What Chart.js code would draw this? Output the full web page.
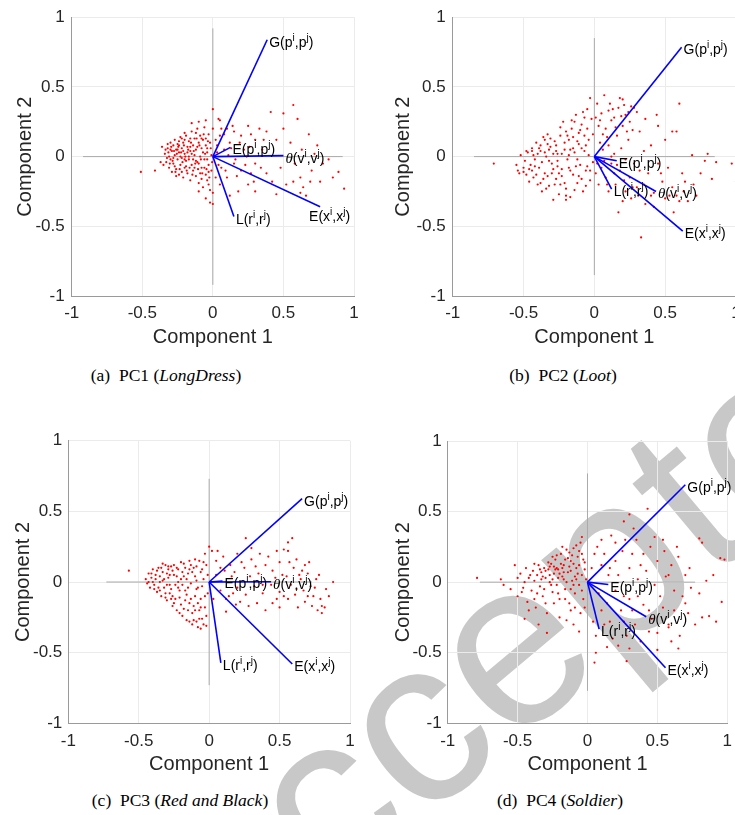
<!DOCTYPE html>
<html>
<head>
<meta charset="utf-8">
<script src="https://cdn.jsdelivr.net/npm/chart.js@4.4.1/dist/chart.umd.min.js"></script>
<style>
  body { margin: 0; background: #fff; }
  #page { position: relative; width: 735px; height: 815px; overflow: hidden; }
  #page canvas { position: absolute; z-index: 1; }
  #mark { position: absolute; left: 0; top: 0; z-index: 0; }
  .cap { position: absolute; z-index: 2; font-family: "Liberation Serif", serif; font-size: 17.5px;
         color: #000; white-space: nowrap; transform: translate(-50%, -50%); }
</style>
</head>
<body>
<div id="page">
  <svg id="mark" width="735" height="815">
    <text x="209.1" y="1000.9" transform="rotate(-40 209.1 1000.9)" font-family="Liberation Sans"
          font-size="235" fill="#c8c8c8">Accepted</text>
  </svg>
  <canvas id="pc1" width="370" height="360"></canvas>
  <canvas id="pc2" width="380" height="360"></canvas>
  <canvas id="pc3" width="370" height="360"></canvas>
  <canvas id="pc4" width="370" height="360"></canvas>
  <div class="cap" style="left:166px;top:375px">(a)&ensp;PC1 (<i>LongDress</i>)</div>
  <div class="cap" style="left:563px;top:375px">(b)&ensp;PC2 (<i>Loot</i>)</div>
  <div class="cap" style="left:180px;top:800px">(c)&ensp;PC3 (<i>Red and Black</i>)</div>
  <div class="cap" style="left:560px;top:800px">(d)&ensp;PC4 (<i>Soldier</i>)</div>
</div>
<script>
'use strict';

const tickValues = [-1, -0.5, 0, 0.5, 1];
const vectorNames = ['G(p^i,p^j)', 'E(p^i,p^j)', 'θ(v^i,v^j)', 'E(x^i,x^j)', 'L(r^i,r^j)'];

// coefficient tips, same order as vectorNames
const pc1Vectors = [[0.385, 0.838], [0.125, 0.066], [0.50, 0.007], [0.76, -0.36], [0.149, -0.43]];
const pc2Vectors = [[0.616, 0.784], [0.158, -0.03], [0.435, -0.25], [0.624, -0.534], [0.122, -0.233]];
const pc3Vectors = [[0.66, 0.59], [0.095, 0.007], [0.44, 0.002], [0.59, -0.58], [0.083, -0.572]];
const pc4Vectors = [[0.70, 0.69], [0.149, -0.017], [0.42, -0.245], [0.558, -0.606], [0.083, -0.333]];

// half length of the grey biplot axes
const axisExtent = [0.92, 0.85, 0.73, 0.77];

const pc1Scores = [
  [-0.34,0.02],[-0.33,-0.04],[-0.32,0.06],[-0.31,-0.08],[-0.31,0.0],[-0.3,0.1],[-0.3,-0.02],[-0.29,0.04],
  [-0.29,-0.11],[-0.28,0.08],[-0.28,-0.05],[-0.27,0.01],[-0.27,0.12],[-0.26,-0.09],[-0.26,0.05],[-0.25,-0.02],
  [-0.25,0.09],[-0.24,-0.13],[-0.24,0.03],[-0.23,0.14],[-0.23,-0.06],[-0.22,0.06],[-0.22,-0.01],[-0.21,-0.15],
  [-0.21,0.1],[-0.2,0.02],[-0.2,-0.08],[-0.19,0.15],[-0.19,-0.03],[-0.18,0.07],[-0.18,-0.12],[-0.17,0.0],
  [-0.17,0.11],[-0.16,-0.17],[-0.16,0.04],[-0.15,-0.06],[-0.15,0.18],[-0.14,0.08],[-0.14,-0.1],[-0.13,0.01],
  [-0.13,0.13],[-0.12,-0.14],[-0.12,0.05],[-0.11,-0.04],[-0.11,0.2],[-0.1,0.1],[-0.1,-0.19],[-0.09,0.0],
  [-0.09,0.15],[-0.08,-0.08],[-0.08,0.06],[-0.07,-0.22],[-0.07,0.12],[-0.06,-0.02],[-0.06,0.21],[-0.05,0.08],
  [-0.05,-0.13],[-0.04,0.03],[-0.04,-0.17],[-0.03,0.16],[-0.03,-0.06],[-0.02,0.1],[-0.02,-0.24],[-0.01,0.01],
  [-0.01,-0.1],[0.0,0.2],[-0.35,-0.06],[-0.32,0.09],[-0.26,-0.14],[-0.24,0.11],[-0.21,0.04],[-0.19,-0.07],
  [-0.17,-0.02],[-0.15,0.02],[-0.13,-0.08],[-0.11,0.07],[-0.09,-0.12],[-0.07,0.03],[-0.05,0.13],[-0.03,-0.11],
  [-0.2,0.12],[-0.22,-0.11],[-0.28,-0.01],[-0.16,0.13],[-0.12,0.17],[-0.08,-0.16],[-0.18,0.03],[-0.25,0.05],
  [-0.3,0.05],[-0.14,-0.02],[-0.1,-0.05],[-0.06,-0.08],[-0.04,0.06],[-0.23,0.0],[-0.27,-0.07],
  [-0.335,0.05],[-0.325,-0.01],[-0.315,0.03],[-0.305,-0.05],[-0.295,0.07],[-0.285,-0.03],[-0.275,0.04],[-0.265,-0.11],
  [-0.255,0.02],[-0.245,0.07],[-0.235,-0.09],[-0.225,0.03],[-0.215,-0.04],[-0.205,0.08],[-0.195,0.0],[-0.185,-0.1],
  [-0.175,0.05],[-0.165,-0.08],[-0.155,0.1],[-0.145,-0.13],[-0.135,0.04],[-0.125,-0.05],[-0.115,0.13],[-0.105,-0.09],
  [-0.095,0.08],[-0.085,-0.02],[-0.075,-0.12],[-0.065,0.16],[-0.055,0.02],[-0.045,-0.09],[-0.035,0.11],[-0.025,-0.15],
  [-0.015,0.06],[-0.005,-0.04],[-0.24,0.08],[-0.2,-0.02],[-0.16,0.07],[-0.12,-0.03],[-0.08,0.13],[-0.04,-0.02],
  [-0.51,-0.11],[-0.41,-0.1],[-0.36,0.07],[-0.37,-0.04],[-0.15,0.24],[-0.1,0.25],[-0.05,0.26],[0.05,0.26],
  [0.04,0.27],[0.0,0.34],[-0.2,0.17],[-0.22,0.13],[-0.05,-0.3],[-0.02,-0.33],[0.0,-0.34],[-0.1,-0.25],
  [0.0,-0.26],[-0.03,-0.2],
  [0.05,0.15],[0.1,0.2],[0.15,0.18],[0.2,0.15],[0.25,0.22],[0.3,0.12],[0.08,0.05],[0.15,-0.05],
  [0.2,-0.1],[0.1,-0.15],[0.25,-0.2],[0.3,-0.05],[0.35,0.05],[0.18,-0.25],[0.12,-0.28],[0.05,-0.2],
  [0.3,-0.25],[0.38,-0.12],[0.33,0.2],[0.22,0.05],[0.06,-0.08],[0.12,0.1],[0.27,-0.12],[0.03,0.08],
  [0.02,0.12],[0.04,-0.06],[0.06,0.2],[0.09,-0.1],[0.13,0.06],[0.17,-0.14],[0.19,0.1],[0.23,-0.06],
  [0.27,0.16],[0.29,-0.18],[0.34,-0.08],[0.36,0.12],[0.02,-0.15],[0.08,0.16],[0.14,0.22],[0.24,0.0],
  [0.03,0.03],[0.16,-0.02],[0.11,0.01],[0.26,0.07],
  [0.41,0.32],[0.5,0.31],[0.57,0.37],[0.6,0.27],[0.38,0.18],[0.68,0.16],[0.45,0.12],[0.55,0.1],
  [0.63,0.05],[0.72,0.02],[0.82,-0.02],[0.89,-0.11],[0.93,-0.23],[0.62,-0.15],[0.64,-0.22],[0.57,-0.18],
  [0.69,-0.18],[0.76,-0.18],[0.62,-0.26],[0.48,-0.08],[0.52,-0.2],[0.45,-0.27],[0.7,-0.1],[0.78,-0.05],
  [0.85,-0.15],[0.66,-0.28],[0.58,-0.05],[0.42,-0.18],[0.74,0.08],[0.5,0.2]
];

const pc2Scores = [
  [-0.71,-0.05],[-0.55,-0.06],[-0.54,-0.1],[-0.53,-0.12],[-0.52,0.01],[-0.5,-0.08],[-0.49,-0.03],[-0.48,-0.13],
  [-0.47,0.03],[-0.46,-0.18],[-0.45,-0.06],[-0.44,0.06],[-0.43,-0.15],[-0.42,-0.02],[-0.41,0.1],[-0.4,-0.2],
  [-0.39,-0.08],[-0.38,0.04],[-0.37,-0.25],[-0.36,0.14],[-0.35,-0.12],[-0.34,0.0],[-0.33,0.16],[-0.32,-0.21],
  [-0.31,0.07],[-0.3,-0.05],[-0.29,-0.31],[-0.28,0.11],[-0.27,-0.16],[-0.26,0.02],[-0.25,-0.27],[-0.24,0.15],
  [-0.23,-0.09],[-0.22,0.25],[-0.21,0.05],[-0.2,-0.23],[-0.19,-0.02],[-0.18,0.12],[-0.17,-0.29],[-0.16,0.2],
  [-0.15,-0.13],[-0.14,0.03],[-0.13,0.3],[-0.12,-0.19],[-0.11,0.09],[-0.1,-0.06],[-0.09,0.23],[-0.08,-0.25],
  [-0.07,0.15],[-0.06,-0.1],[-0.05,0.34],[-0.04,0.01],[-0.03,-0.17],[-0.02,0.27],[-0.01,-0.04],[-0.03,0.42],
  [-0.48,0.04],[-0.44,-0.1],[-0.4,0.02],[-0.36,-0.16],[-0.33,0.09],[-0.3,-0.12],[-0.27,0.04],[-0.24,-0.2],
  [-0.21,0.1],[-0.18,-0.08],[-0.15,0.14],[-0.12,-0.02],[-0.09,0.06],[-0.06,-0.21],[-0.26,-0.07],[-0.32,-0.03],
  [-0.38,0.08],[-0.2,0.18],[-0.14,-0.24],[-0.1,0.19],[-0.07,0.28],[-0.35,0.12],[-0.29,0.02],[-0.23,-0.14],
  [-0.17,0.05],[-0.11,-0.14],[-0.05,-0.07],[-0.16,0.26],[-0.2,-0.31],[-0.04,0.12],[-0.34,-0.23],[-0.42,-0.07],
  [-0.5,-0.11],
  [-0.46,-0.09],[-0.43,0.01],[-0.41,-0.13],[-0.39,0.06],[-0.37,-0.04],[-0.35,0.03],[-0.33,-0.14],[-0.31,0.13],
  [-0.29,-0.09],[-0.27,0.08],[-0.25,-0.12],[-0.23,0.02],[-0.21,-0.19],[-0.19,0.15],[-0.17,-0.1],[-0.15,0.06],
  [-0.13,-0.07],[-0.11,0.17],[-0.09,-0.16],[-0.07,0.04],[-0.05,0.2],[-0.03,-0.1],[-0.01,0.16],[-0.28,-0.2],
  [-0.24,0.21],[-0.14,0.25],[-0.08,0.32],[-0.2,-0.28],[-0.12,0.11],[-0.06,0.08],[-0.38,-0.19],[-0.32,0.05],
  [-0.26,-0.03],[-0.18,0.01],[-0.44,0.04],
  [0.07,0.44],[0.18,0.42],[0.2,0.41],[0.02,0.38],[0.05,0.31],[0.1,0.33],[0.14,0.28],[0.17,0.35],
  [0.22,0.3],[0.26,0.36],[0.28,0.35],[0.03,0.22],[0.08,0.2],[0.12,0.26],[0.16,0.15],[0.2,0.22],
  [0.24,0.12],[0.04,0.1],[0.1,0.08],[0.14,0.02],[0.06,0.16],[0.19,0.06],[0.25,0.25],[0.01,0.28],
  [0.11,0.38],[0.23,0.18],[0.04,0.26],[0.09,0.14],[0.13,0.34],[0.15,0.21],[0.19,0.29],[0.21,0.37],
  [0.24,0.32],[0.27,0.19],[0.06,0.05],[0.12,0.0],[0.3,0.32],
  [0.44,0.3],[0.36,0.27],[0.6,0.38],[0.55,0.18],[0.58,0.18],[0.5,0.12],[0.4,0.08],[0.69,0.01],
  [0.78,-0.03],[0.86,-0.04],[0.97,-0.05],[1.0,-0.18],[0.83,-0.16],[0.56,-0.4],[0.33,-0.58],[0.5,-0.3],
  [0.6,-0.32],[0.66,-0.32],[0.42,-0.26],[0.48,-0.18],[0.55,-0.22],[0.63,-0.25],[0.7,-0.2],[0.75,-0.12],
  [0.38,-0.12],[0.45,-0.05],[0.52,-0.08],[0.62,-0.12],[0.36,-0.34],[0.58,-0.28],[0.45,0.22],[0.32,0.18],
  [0.35,-0.2],[0.4,-0.28],[0.47,-0.12],[0.53,-0.28],[0.64,-0.18],[0.72,-0.28],[0.8,0.02],[0.35,0.04],
  [0.42,-0.36],
  [0.05,-0.08],[0.08,-0.15],[0.12,-0.05],[0.15,-0.2],[0.18,-0.1],[0.22,-0.25],[0.25,-0.15],[0.28,-0.05],
  [0.3,-0.22],[0.1,-0.25],[0.2,-0.32],[0.17,-0.4],[0.03,-0.2],[0.26,-0.3],[0.32,-0.1],[0.07,-0.03],
  [0.14,-0.12],[0.22,-0.02],[0.01,-0.12],[0.31,-0.28],[0.02,-0.05],[0.09,-0.2],[0.16,-0.06],[0.21,-0.17],
  [0.27,-0.22]
];

const pc3Scores = [
  [-0.57,0.08],[-0.45,0.02],[-0.44,-0.01],[-0.43,0.06],[-0.42,-0.04],[-0.41,0.03],[-0.4,0.09],[-0.39,-0.02],
  [-0.38,0.05],[-0.37,-0.07],[-0.36,0.1],[-0.35,0.0],[-0.34,-0.1],[-0.33,0.07],[-0.32,-0.04],[-0.31,0.12],
  [-0.3,-0.13],[-0.29,0.03],[-0.28,-0.08],[-0.27,0.11],[-0.26,-0.17],[-0.25,0.05],[-0.24,-0.02],[-0.23,-0.2],
  [-0.22,0.09],[-0.21,-0.11],[-0.2,0.02],[-0.19,-0.24],[-0.18,0.13],[-0.17,-0.06],[-0.16,-0.27],[-0.15,0.06],
  [-0.14,-0.15],[-0.13,-0.01],[-0.12,-0.3],[-0.11,0.1],[-0.1,-0.2],[-0.09,-0.05],[-0.08,-0.32],[-0.07,0.15],
  [-0.06,-0.12],[-0.05,-0.26],[-0.04,0.02],[-0.03,-0.18],[-0.02,0.12],[-0.01,-0.08],[-0.33,0.13],[-0.3,0.06],
  [-0.28,-0.02],[-0.26,0.08],[-0.24,-0.12],[-0.22,0.0],[-0.2,-0.16],[-0.18,0.04],[-0.16,-0.09],[-0.14,0.09],
  [-0.12,-0.22],[-0.1,0.04],[-0.08,-0.15],[-0.06,0.07],[-0.04,-0.3],[-0.36,-0.04],[-0.4,0.0],[-0.32,0.02],
  [-0.27,-0.12],[-0.25,0.12],[-0.21,-0.06],[-0.17,0.1],[-0.13,-0.12],[-0.09,0.11],[-0.05,-0.03],[-0.19,-0.02],
  [-0.23,0.04],[-0.15,-0.2],[-0.11,-0.27],[-0.07,-0.2],[-0.35,0.04],[-0.29,0.09],[-0.2,0.14],[-0.1,0.16],
  [0.0,0.25],[0.02,0.22],[-0.03,0.2],[-0.14,0.15],[-0.02,-0.24],[-0.06,-0.33],[-0.09,-0.28],[-0.31,-0.08],
  [-0.38,0.02],
  [-0.43,0.0],[-0.41,0.06],[-0.39,-0.05],[-0.37,0.08],[-0.35,-0.06],[-0.33,0.01],[-0.31,-0.11],[-0.29,0.11],
  [-0.27,-0.05],[-0.25,-0.15],[-0.23,0.1],[-0.21,-0.22],[-0.19,0.07],[-0.17,-0.13],[-0.15,-0.04],[-0.13,0.12],
  [-0.11,-0.17],[-0.09,0.01],[-0.07,-0.26],[-0.05,0.09],[-0.03,-0.1],[-0.01,0.05],[-0.26,-0.1],[-0.22,-0.04],
  [-0.18,-0.19],[-0.14,-0.28],[-0.1,-0.1],[-0.06,-0.18],[-0.02,-0.31],[-0.34,0.1],[-0.3,-0.02],[-0.16,0.02],
  [-0.12,0.07],[-0.08,-0.04],[-0.04,0.14],[-0.28,0.05],
  [0.26,0.31],[0.59,0.31],[0.53,0.23],[0.56,0.22],[0.78,0.05],[0.88,0.0],[0.83,-0.05],[0.8,-0.17],
  [0.8,-0.22],[0.77,-0.2],[0.7,-0.1],[0.45,-0.15],[0.34,-0.15],[0.28,-0.17],[0.12,-0.21],[0.5,-0.18],
  [0.05,0.15],[0.1,0.18],[0.15,0.12],[0.2,0.2],[0.25,0.1],[0.3,0.16],[0.35,0.06],[0.4,0.12],
  [0.45,0.08],[0.5,0.14],[0.55,0.04],[0.6,0.1],[0.65,0.02],[0.7,0.06],[0.75,-0.04],[0.08,-0.06],
  [0.14,-0.1],[0.2,-0.04],[0.26,-0.09],[0.32,-0.03],[0.38,-0.08],[0.44,-0.02],[0.5,-0.07],[0.56,-0.12],
  [0.62,-0.05],[0.68,-0.14],[0.74,-0.1],[0.05,0.05],[0.18,0.07],[0.62,0.16],[0.66,0.08],[0.72,-0.03],
  [0.58,-0.02],[0.4,-0.2],[0.22,-0.14],[0.08,0.1],[0.16,0.04],[0.12,-0.12],[0.36,0.2],[0.48,0.22],
  [0.52,0.05],[0.85,-0.1],[0.63,-0.18],[0.68,0.12],
  [0.03,-0.12],[0.06,0.22],[0.11,0.08],[0.17,-0.08],[0.23,0.14],[0.29,0.04],[0.33,0.11],[0.38,-0.02],
  [0.42,0.18],[0.47,0.03],[0.53,-0.1],[0.57,0.14],[0.61,-0.09],[0.64,0.05],[0.67,-0.06],[0.71,0.14],
  [0.76,0.02],[0.79,-0.12],[0.82,-0.18],[0.73,-0.17],[0.48,-0.12],[0.19,-0.16],[0.3,0.24],[0.56,0.28]
];

const pc4Scores = [
  [-0.79,0.03],[-0.62,0.02],[-0.6,-0.02],[-0.52,0.12],[-0.5,-0.1],[-0.48,0.06],[-0.46,-0.04],[-0.45,0.0],
  [-0.44,0.1],[-0.43,-0.14],[-0.42,0.03],[-0.4,-0.06],[-0.39,0.08],[-0.38,0.01],[-0.37,-0.18],[-0.36,0.05],
  [-0.35,0.12],[-0.34,-0.03],[-0.33,0.07],[-0.32,-0.1],[-0.31,0.1],[-0.3,0.03],[-0.29,-0.22],[-0.28,0.09],
  [-0.27,0.0],[-0.26,0.13],[-0.25,-0.07],[-0.24,0.06],[-0.23,0.16],[-0.22,-0.02],[-0.21,0.09],[-0.2,-0.12],
  [-0.19,0.2],[-0.18,0.04],[-0.17,0.12],[-0.16,-0.05],[-0.15,0.23],[-0.14,0.07],[-0.13,-0.15],[-0.12,0.15],
  [-0.11,0.01],[-0.1,0.24],[-0.09,-0.08],[-0.08,0.1],[-0.07,0.18],[-0.06,-0.02],[-0.05,0.28],[-0.04,0.05],
  [-0.03,-0.12],[-0.02,0.14],[-0.01,0.02],[-0.3,0.08],[-0.27,0.05],[-0.24,0.11],[-0.21,0.03],[-0.18,0.1],
  [-0.15,0.0],[-0.12,0.08],[-0.09,0.04],[-0.06,0.12],[-0.33,0.02],[-0.36,-0.08],[-0.2,0.06],[-0.16,0.16],
  [-0.1,-0.02],[-0.04,0.2],[-0.25,0.18],[-0.13,0.21],[-0.42,-0.2],[-0.35,-0.3],[-0.29,-0.36],[-0.15,-0.27],
  [-0.1,-0.3],[-0.2,-0.25],[-0.05,-0.22],[-0.24,-0.15],[-0.06,-0.35],[-0.12,-0.2],[-0.45,-0.26],[-0.02,-0.18],
  [-0.18,0.25],[-0.08,0.26],[-0.04,0.32],
  [-0.5,0.03],[-0.47,-0.07],[-0.41,0.05],[-0.38,-0.12],[-0.34,0.09],[-0.31,-0.05],[-0.28,0.14],[-0.26,-0.02],
  [-0.23,0.09],[-0.21,-0.08],[-0.19,0.13],[-0.17,0.02],[-0.14,0.17],[-0.12,-0.05],[-0.1,0.13],[-0.08,0.02],
  [-0.06,0.22],[-0.04,-0.06],[-0.02,0.09],[-0.27,0.11],[-0.22,0.19],[-0.17,0.07],[-0.13,0.11],[-0.07,0.06],
  [-0.03,0.16],[-0.32,0.04],[-0.25,0.02],[-0.16,-0.12],[-0.09,-0.18],[-0.3,-0.15],[-0.38,0.13],[-0.55,-0.05],
  [-0.22,0.1],[-0.11,0.19],
  [0.43,0.52],[0.3,0.48],[0.26,0.43],[0.17,0.33],[0.8,0.31],[0.82,0.28],[0.95,0.17],[0.98,0.16],
  [0.73,0.1],[0.85,0.01],[0.96,-0.14],[0.82,-0.25],[0.87,-0.24],[0.65,-0.47],[0.28,-0.56],[0.05,-0.57],
  [0.06,-0.5],[0.1,0.3],[0.2,0.28],[0.25,0.22],[0.35,0.3],[0.4,0.2],[0.45,0.25],[0.5,0.15],
  [0.55,0.22],[0.6,0.12],[0.65,0.18],[0.7,0.05],[0.1,0.12],[0.15,0.05],[0.2,0.15],[0.3,0.1],
  [0.36,0.02],[0.42,0.08],[0.48,-0.02],[0.56,0.04],[0.62,-0.06],[0.68,-0.1],[0.74,-0.04],[0.08,-0.08],
  [0.14,-0.15],[0.2,-0.06],[0.24,-0.2],[0.3,-0.12],[0.34,-0.3],[0.4,-0.16],[0.46,-0.26],[0.52,-0.1],
  [0.58,-0.3],[0.62,-0.2],[0.66,-0.38],[0.72,-0.22],[0.18,-0.4],[0.22,-0.45],[0.28,-0.38],[0.12,-0.3],
  [0.38,-0.42],[0.5,-0.48],[0.58,-0.32],[0.04,-0.28],[0.05,0.2],[0.3,-0.47],[0.44,-0.35],[0.77,-0.3],
  [0.9,0.05],[0.33,0.38],[0.54,0.3],
  [0.03,0.1],[0.07,0.25],[0.12,0.2],[0.16,0.1],[0.22,0.05],[0.27,0.3],[0.32,0.2],[0.38,0.12],
  [0.48,0.32],[0.58,0.05],[0.64,0.25],[0.7,-0.15],[0.8,-0.08],[0.1,-0.2],[0.16,-0.28],[0.26,-0.28],
  [0.32,-0.2],[0.36,-0.1],[0.44,-0.2],[0.5,-0.36],[0.54,-0.18],[0.6,-0.42],[0.26,-0.1],[0.06,-0.38],
  [0.14,-0.46],[0.92,-0.28]
];

// where each panel sits on the page and how its axes are padded
const frames = [
  { id: 'pc1', left: 0,   top: 0,   yW: 71.7, padTop: 15,   padRight: 16,   xH: 64,   yTitlePad: 13,   xTitlePad: 11, xTickPad: 7, yTickPad: 7 },
  { id: 'pc2', left: 370, top: 0,   yW: 82.7, padTop: 15,   padRight: 14,   xH: 64,   yTitlePad: 21.3, xTitlePad: 11, xTickPad: 7, yTickPad: 7 },
  { id: 'pc3', left: 0,   top: 420, yW: 68.3, padTop: 20.7, padRight: 20,   xH: 56.7, yTitlePad: 11.3, xTitlePad: 4,  xTickPad: 8, yTickPad: 6 },
  { id: 'pc4', left: 370, top: 420, yW: 77.7, padTop: 21,   padRight: 10.7, xH: 56.7, yTitlePad: 21.3, xTitlePad: 4,  xTickPad: 8, yTickPad: 6 }
];
// label nudges (pixels) for tips whose text sits off the end
const labelShift = [{3: [-13, 7]}, {}, {}, {}];

const allScores = [pc1Scores, pc2Scores, pc3Scores, pc4Scores];
const allVectors = [pc1Vectors, pc2Vectors, pc3Vectors, pc4Vectors];

const axisFont = { family: '"Liberation Sans", Arial, sans-serif', size: 17 };
const titleFont = { family: '"Liberation Sans", Arial, sans-serif', size: 20 };

function drawLabel(ctx, text, px, py) {
    ctx.save();
    ctx.fillStyle = '#000';
    ctx.textBaseline = 'alphabetic';
    ctx.textAlign = 'left';
    let cx = px;
    const base = py + 7;
    for (let i = 0; i < text.length; i++) {
        let ch = text[i];
        let sup = false;
        if (ch === '^') {
            sup = true;
            ch = text[++i];
        }
        if (ch === 'θ') {
            ctx.font = 'italic 15px "Liberation Serif", serif';
        } else {
            ctx.font = (sup ? 10 : 14) + 'px "Liberation Sans", Arial, sans-serif';
        }
        ctx.fillText(ch, cx, sup ? base - 6 : base);
        cx += ctx.measureText(ch).width;
    }
    ctx.restore();
}

function tipLabels(vectors, shift) {
    return {
        id: 'tipLabels',
        afterDatasetsDraw(chart) {
            const xs = chart.scales.x;
            const ys = chart.scales.y;
            vectors.forEach((tip, k) => {
                const d = shift[k] || [0, 0];
                drawLabel(chart.ctx, vectorNames[k],
                    xs.getPixelForValue(tip[0]) + 2 + d[0],
                    ys.getPixelForValue(tip[1]) + d[1]);
            });
        }
    };
}

function makePanel(n) {
    const f = frames[n];
    const canvasEl = document.getElementById(f.id);
    canvasEl.style.left = f.left + 'px';
    canvasEl.style.top = f.top + 'px';

    const ext = axisExtent[n];
    let datasets = [];
    allVectors[n].forEach(tip => {
        datasets.push({
            data: [{x: 0, y: 0}, {x: tip[0], y: tip[1]}],
            showLine: true, borderColor: '#0000ff', borderWidth: 1.6,
            pointRadius: 0, order: 0
        });
    });
    datasets.push({
        data: [{x: -ext, y: 0}, {x: ext, y: 0}],
        showLine: true, borderColor: '#aaaaaa', borderWidth: 1, pointRadius: 0, order: 2
    });
    datasets.push({
        data: [{x: 0, y: -ext}, {x: 0, y: ext}],
        showLine: true, borderColor: '#aaaaaa', borderWidth: 1, pointRadius: 0, order: 2
    });
    datasets.push({
        data: allScores[n].map(p => ({x: p[0], y: p[1]})),
        pointRadius: 1.1, pointBorderWidth: 0, pointBackgroundColor: '#ff0000',
        showLine: false, order: 1
    });

    const setTicks = scale => { scale.ticks = tickValues.map(v => ({value: v})); };

    return new Chart(canvasEl, {
        type: 'scatter',
        data: { datasets: datasets },
        options: {
            responsive: false,
            animation: false,
            events: [],
            layout: { padding: { left: 0, top: f.padTop, right: f.padRight, bottom: 0 } },
            plugins: { legend: { display: false }, tooltip: { enabled: false } },
            scales: {
                x: {
                    type: 'linear', min: -1, max: 1,
                    afterBuildTicks: setTicks,
                    afterFit: scale => { scale.height = f.xH; },
                    ticks: { font: axisFont, color: '#262626', padding: f.xTickPad, callback: v => String(v) },
                    grid: { color: '#ebebeb', drawTicks: false },
                    border: { color: '#9a9a9a' },
                    title: { display: true, text: 'Component 1', font: titleFont, color: '#262626',
                             padding: { top: 0, bottom: f.xTitlePad } }
                },
                y: {
                    type: 'linear', min: -1, max: 1,
                    afterBuildTicks: setTicks,
                    afterFit: scale => { scale.width = f.yW; },
                    ticks: { font: axisFont, color: '#262626', padding: f.yTickPad, callback: v => String(v) },
                    grid: { color: '#ebebeb', drawTicks: false },
                    border: { color: '#9a9a9a' },
                    title: { display: true, text: 'Component 2', font: titleFont, color: '#262626',
                             padding: { top: f.yTitlePad, bottom: 0 } }
                }
            }
        },
        plugins: [tipLabels(allVectors[n], labelShift[n])]
    });
}

for (let n = 0; n < frames.length; n++) {
    makePanel(n);
}
</script>
</body>
</html>
